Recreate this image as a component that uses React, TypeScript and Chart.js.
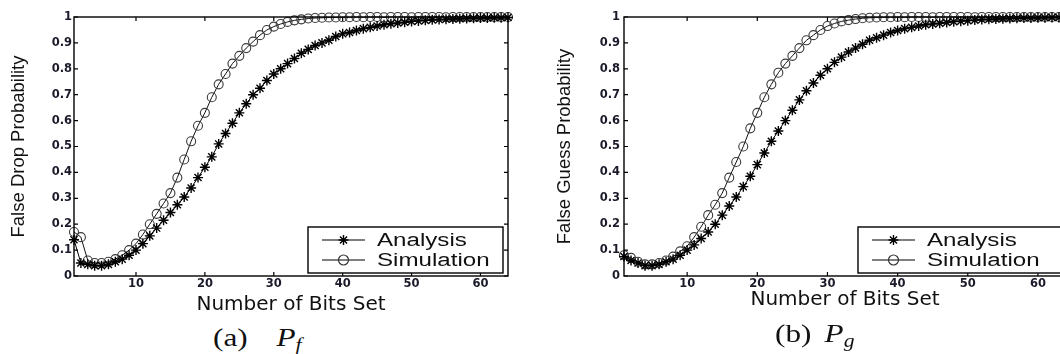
import React, { useEffect, useRef } from 'react';
import { Chart, registerables } from 'chart.js';

Chart.register(...registerables);

// ---------- data ----------
const bits = [
  1, 2, 3, 4, 5, 6, 7, 8, 9, 10, 11, 12, 13, 14, 15, 16,
  17, 18, 19, 20, 21, 22, 23, 24, 25, 26, 27, 28, 29, 30, 31, 32,
  33, 34, 35, 36, 37, 38, 39, 40, 41, 42, 43, 44, 45, 46, 47, 48,
  49, 50, 51, 52, 53, 54, 55, 56, 57, 58, 59, 60, 61, 62, 63, 64,
];

// (a) P_f
const analysisPf = [
  0.14, 0.05, 0.045, 0.04, 0.04, 0.045, 0.055, 0.065, 0.08, 0.1, 0.125, 0.155, 0.185, 0.215, 0.245, 0.275,
  0.305, 0.34, 0.38, 0.42, 0.46, 0.51, 0.55, 0.59, 0.63, 0.665, 0.7, 0.725, 0.755, 0.78, 0.8, 0.82,
  0.84, 0.86, 0.875, 0.89, 0.9, 0.91, 0.925, 0.935, 0.94, 0.948, 0.955, 0.96, 0.965, 0.97, 0.974, 0.977,
  0.98, 0.983, 0.985, 0.987, 0.989, 0.99, 0.991, 0.992, 0.993, 0.994, 0.995, 0.996, 0.996, 0.997, 0.997, 0.998,
];
const simulationPf = [
  0.17, 0.15, 0.06, 0.05, 0.05, 0.055, 0.065, 0.08, 0.1, 0.125, 0.16, 0.2, 0.24, 0.28, 0.32, 0.38,
  0.45, 0.52, 0.58, 0.63, 0.69, 0.74, 0.78, 0.82, 0.85, 0.88, 0.905, 0.93, 0.95, 0.963, 0.973, 0.981,
  0.987, 0.991, 0.994, 0.996, 0.997, 0.998, 0.998, 0.999, 0.999, 1.0, 0.999, 1.0, 1.0, 0.999, 1.0, 1.0,
  1.0, 0.999, 1.0, 1.0, 1.0, 1.0, 0.999, 1.0, 1.0, 1.0, 1.0, 1.0, 1.0, 1.0, 1.0, 1.0,
];

// (b) P_g
const analysisPg = [
  0.075, 0.06, 0.05, 0.04, 0.04, 0.045, 0.055, 0.065, 0.08, 0.1, 0.12, 0.145, 0.17, 0.2, 0.235, 0.27,
  0.305, 0.345, 0.385, 0.43, 0.475, 0.52, 0.56, 0.6, 0.64, 0.68, 0.715, 0.745, 0.775, 0.8, 0.825, 0.845,
  0.865, 0.88, 0.895, 0.91, 0.92, 0.93, 0.94, 0.948, 0.955, 0.96, 0.965, 0.97, 0.973, 0.976, 0.979, 0.982,
  0.984, 0.986, 0.988, 0.99, 0.991, 0.992, 0.993, 0.994, 0.995, 0.996, 0.996, 0.997, 0.997, 0.998, 0.998, 0.999,
];
const simulationPg = [
  0.08, 0.07, 0.055, 0.045, 0.045, 0.05, 0.06, 0.075, 0.095, 0.115, 0.15, 0.19, 0.235, 0.275, 0.32, 0.38,
  0.44, 0.5, 0.57, 0.63, 0.69, 0.74, 0.785, 0.82, 0.85, 0.88, 0.91, 0.93, 0.95, 0.965, 0.975, 0.983,
  0.988, 0.992, 0.995, 0.997, 0.998, 0.999, 0.999, 1.0, 0.999, 1.0, 1.0, 1.0, 0.999, 1.0, 1.0, 1.0,
  1.0, 1.0, 0.999, 1.0, 1.0, 1.0, 1.0, 1.0, 1.0, 1.0, 1.0, 1.0, 1.0, 1.0, 1.0, 1.0,
];

const xTickValues = [10, 20, 30, 40, 50, 60];
const xTickLabels = ['10', '20', '30', '40', '50', '60'];
const yTickValues = [0, 0.1, 0.2, 0.3, 0.4, 0.5, 0.6, 0.7, 0.8, 0.9, 1];
const yTickLabels = ['0', '0.1', '0.2', '0.3', '0.4', '0.5', '0.6', '0.7', '0.8', '0.9', '1'];
const seriesNames = ['Analysis', 'Simulation'];
const xTitle = 'Number of Bits Set';
const yTitles = ['False Drop Probability', 'False Guess Probability'];

// ---------- helpers ----------
type PanelCfg = {
  left: number;
  width: number;
  height: number;
  padLeft: number;
  padRight: number;
  yWidth: number;
  yTickPad: number;
  xTitlePadBottom: number;
  yTitle: string;
  analysis: number[];
  simulation: number[];
  legendWidth: number;
};

const framePlugin = {
  id: 'matlabFrame',
  afterDatasetsDraw(chart: any, _args: any, opts: any) {
    const { ctx, chartArea: a, scales } = chart;
    const x = scales.x;
    const y = scales.y;
    ctx.save();
    ctx.strokeStyle = '#000';
    ctx.lineWidth = 1.4;
    ctx.strokeRect(a.left, a.top, a.right - a.left, a.bottom - a.top);
    ctx.lineWidth = 1.2;
    const tl = 4;
    ctx.beginPath();
    xTickValues.forEach((v) => {
      const px = x.getPixelForValue(v);
      ctx.moveTo(px, a.bottom);
      ctx.lineTo(px, a.bottom - tl);
      ctx.moveTo(px, a.top);
      ctx.lineTo(px, a.top + tl);
    });
    yTickValues.forEach((v) => {
      const py = y.getPixelForValue(v);
      ctx.moveTo(a.left, py);
      ctx.lineTo(a.left + tl, py);
      ctx.moveTo(a.right, py);
      ctx.lineTo(a.right - tl, py);
    });
    ctx.stroke();

    // legend box (south-east)
    const bw = opts.width;
    const bh = 46;
    const bx = a.right - 5 - bw;
    const by = a.bottom - 3 - bh;
    ctx.fillStyle = '#fff';
    ctx.fillRect(bx, by, bw, bh);
    ctx.lineWidth = 1.4;
    ctx.strokeStyle = '#000';
    ctx.strokeRect(bx, by, bw, bh);

    const rows = [by + 13, by + 33];
    rows.forEach((ry, i) => {
      const lx0 = bx + 14;
      const lx1 = bx + 57;
      ctx.lineWidth = 1.2;
      ctx.strokeStyle = '#000';
      ctx.beginPath();
      ctx.moveTo(lx0, ry);
      ctx.lineTo(lx1, ry);
      ctx.stroke();
      const cx = (lx0 + lx1) / 2;
      ctx.beginPath();
      if (i === 0) {
        const r = 5;
        ctx.moveTo(cx - r, ry);
        ctx.lineTo(cx + r, ry);
        ctx.moveTo(cx, ry - r);
        ctx.lineTo(cx, ry + r);
        const d = r * Math.SQRT1_2;
        ctx.moveTo(cx - d, ry - d);
        ctx.lineTo(cx + d, ry + d);
        ctx.moveTo(cx - d, ry + d);
        ctx.lineTo(cx + d, ry - d);
        ctx.strokeStyle = '#000';
        ctx.lineWidth = 1.4;
      } else {
        ctx.arc(cx, ry, 5, 0, Math.PI * 2);
        ctx.strokeStyle = '#333';
      }
      ctx.stroke();
      ctx.save();
      ctx.translate(bx + 69, ry + 1);
      ctx.scale(1.34, 1);
      ctx.fillStyle = '#111';
      ctx.font = '18px "Liberation Sans", Arial, sans-serif';
      ctx.textBaseline = 'middle';
      ctx.textAlign = 'left';
      ctx.fillText(seriesNames[i], 0, 0);
      ctx.restore();
    });
    ctx.restore();
  },
};

function Panel({ cfg }: { cfg: PanelCfg }) {
  const ref = useRef<HTMLCanvasElement | null>(null);
  useEffect(() => {
    if (!ref.current) return;
    const tickFont = { family: '"DejaVu Sans", sans-serif', size: 11.5, weight: 'bold' as const };
    const chart = new Chart(ref.current, {
      type: 'line',
      data: {
        datasets: [
          {
            label: seriesNames[0],
            data: bits.map((b, i) => ({ x: b, y: cfg.analysis[i] })),
            borderColor: '#000',
            borderWidth: 1,
            pointStyle: 'star',
            pointRadius: 5,
            pointBorderColor: '#000',
            pointBorderWidth: 1.4,
            pointBackgroundColor: 'rgba(0,0,0,0)',
            tension: 0,
            clip: false as any,
          },
          {
            label: seriesNames[1],
            data: bits.map((b, i) => ({ x: b, y: cfg.simulation[i] })),
            borderColor: '#111',
            borderWidth: 1,
            pointStyle: 'circle',
            pointRadius: 4.5,
            pointBorderColor: '#3a3a3a',
            pointBorderWidth: 1.1,
            pointBackgroundColor: 'rgba(0,0,0,0)',
            tension: 0,
            clip: false as any,
          },
        ],
      },
      options: {
        animation: false,
        responsive: false,
        devicePixelRatio: 1,
        events: [],
        layout: { padding: { left: cfg.padLeft, right: cfg.padRight, top: 17, bottom: 0 } },
        plugins: {
          legend: { display: false },
          tooltip: { enabled: false },
          matlabFrame: { width: cfg.legendWidth },
        } as any,
        scales: {
          x: {
            type: 'linear',
            min: 1,
            max: 64,
            grid: { display: false, drawTicks: false },
            border: { display: false },
            afterBuildTicks: (s: any) => {
              s.ticks = xTickValues.map((v) => ({ value: v }));
            },
            afterFit: (s: any) => {
              s.height = cfg.height - 276;
            },
            ticks: {
              autoSkip: false,
              maxRotation: 0,
              padding: 1,
              color: '#1a1a2a',
              font: tickFont,
              callback: (_v: any, i: number) => xTickLabels[i],
            },
            title: {
              display: true,
              text: xTitle,
              color: '#111',
              font: { family: '"DejaVu Sans", sans-serif', size: 20 },
              padding: { top: 0, bottom: cfg.xTitlePadBottom },
            },
          },
          y: {
            type: 'linear',
            min: 0,
            max: 1,
            grid: { display: false, drawTicks: false },
            border: { display: false },
            afterBuildTicks: (s: any) => {
              s.ticks = yTickValues.map((v) => ({ value: v }));
            },
            afterFit: (s: any) => {
              s.width = cfg.yWidth;
            },
            ticks: {
              autoSkip: false,
              padding: cfg.yTickPad,
              color: '#1a1a2a',
              font: tickFont,
              callback: (_v: any, i: number) => yTickLabels[i],
            },
            title: {
              display: true,
              text: cfg.yTitle,
              color: '#111',
              font: { family: '"Liberation Sans", Arial, sans-serif', size: 18.5 },
              padding: { top: 4, bottom: 0 },
            },
          },
        },
      },
      plugins: [framePlugin],
    });
    return () => chart.destroy();
  }, []);
  return (
    <canvas
      ref={ref}
      width={cfg.width}
      height={cfg.height}
      style={{ position: 'absolute', left: cfg.left, top: 0, width: cfg.width, height: cfg.height }}
    />
  );
}

const leftCfg: PanelCfg = {
  left: 0,
  width: 530,
  height: 320,
  padLeft: 4,
  padRight: 22,
  yWidth: 70,
  yTickPad: 2,
  xTitlePadBottom: 3,
  yTitle: yTitles[0],
  analysis: analysisPf,
  simulation: simulationPf,
  legendWidth: 195,
};

const rightCfg: PanelCfg = {
  left: 530,
  width: 560,
  height: 320,
  padLeft: 20,
  padRight: 24,
  yWidth: 74,
  yTickPad: 4,
  xTitlePadBottom: 8,
  yTitle: yTitles[1],
  analysis: analysisPg,
  simulation: simulationPg,
  legendWidth: 203,
};

const captionBase: React.CSSProperties = {
  position: 'absolute',
  fontFamily: '"Liberation Serif", "DejaVu Serif", serif',
  fontSize: 26,
  lineHeight: '26px',
  color: '#111',
  whiteSpace: 'nowrap',
  transform: 'scaleX(1.2)',
  transformOrigin: 'left top',
};

export default function App() {
  return (
    <div
      style={{
        position: 'fixed',
        left: 0,
        top: 0,
        width: 1060,
        height: 354,
        overflow: 'hidden',
        background: '#fff',
      }}
    >
      <Panel cfg={leftCfg} />
      <Panel cfg={rightCfg} />
      <div style={{ ...captionBase, left: 213, top: 325 }}>
        (a)<i style={{ marginLeft: 24 }}>P</i>
        <i style={{ fontSize: 18, position: 'relative', top: 5 }}>f</i>
      </div>
      <div style={{ ...captionBase, left: 775, top: 321 }}>
        (b)<i style={{ marginLeft: 11 }}>P</i>
        <i style={{ fontSize: 18, position: 'relative', top: 5 }}>g</i>
      </div>
    </div>
  );
}
